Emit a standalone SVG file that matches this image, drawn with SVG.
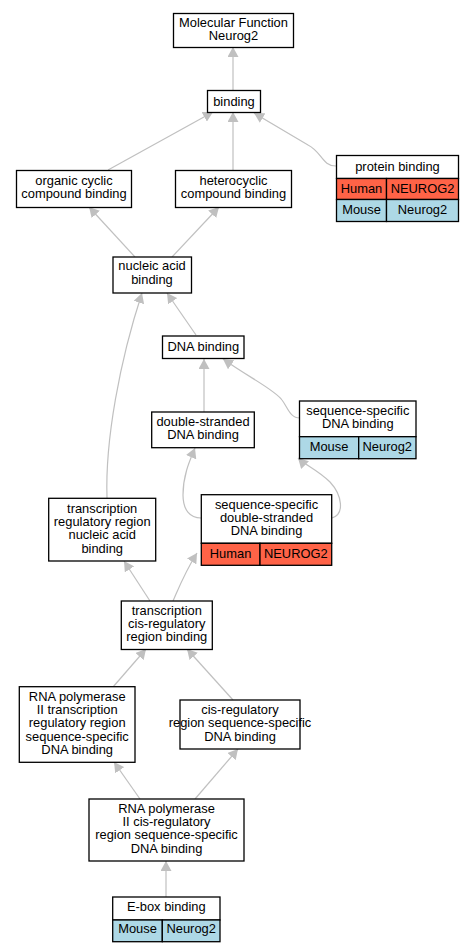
<svg xmlns="http://www.w3.org/2000/svg" width="475" height="952" viewBox="0 0 475 952">
<style>
.b{fill:#ffffff;stroke:#000000;stroke-width:1.3}
.h{fill:#ff6347;stroke:#000000;stroke-width:1.3}
.m{fill:#add8e6;stroke:#000000;stroke-width:1.3}
.ln{stroke:#000000;stroke-width:1.3;fill:none}
text{font-family:"Liberation Sans",Arial,sans-serif;font-size:12.9px;fill:#000000;text-anchor:middle}
.e{fill:none;stroke:#c0c0c0;stroke-width:1.2;marker-end:url(#arr)}
</style>
<defs>
<marker id="arr" viewBox="0 0 10 10" refX="10" refY="5" markerWidth="10" markerHeight="11" markerUnits="userSpaceOnUse" orient="auto" preserveAspectRatio="none">
<path d="M0,0 L10,5 L0,10 z" fill="#c0c0c0"/>
</marker>
</defs>
<rect width="475" height="952" fill="#ffffff"/>
<g id="edges">
<path class="e" d="M233,90 L233,47"/>
<path class="e" d="M108,170 L213,112"/>
<path class="e" d="M233,170 L233,112"/>
<path class="e" d="M336,166 C322,166 322,152 308,145 L254,113"/>
<path class="e" d="M135,257 L89,207"/>
<path class="e" d="M172,257 L219,207"/>
<path class="e" d="M196,335 L167,293"/>
<path class="e" d="M300,418 C290,418 288,408 282,400 C275,390 250,378 223,359"/>
<path class="e" d="M204,412 L204,359"/>
<path class="e" d="M201,518 C190,518 183,510 183,495 C183,475 190,460 195,448"/>
<path class="e" d="M332,518 C345,514 342,495 330,482 C318,470 305,465 298,458"/>
<path class="e" d="M107,498 C105,440 120,360 142,293"/>
<path class="e" d="M150,601 L124,561"/>
<path class="e" d="M173,601 C180,585 185,572 197,553"/>
<path class="e" d="M113,687 L146,649"/>
<path class="e" d="M233,700 L187,649"/>
<path class="e" d="M140,799 L114,762"/>
<path class="e" d="M195,799 L238,749"/>
<path class="e" d="M166,897 L166,861"/>
</g>
<g id="n1">
<rect class="b" x="173.5" y="13.5" width="120" height="34"/>
<text x="233.5" y="26.5">Molecular Function</text>
<text x="233.5" y="39.8">Neurog2</text>
</g>
<g id="n2">
<rect class="b" x="207.5" y="90.5" width="53" height="22"/>
<text x="234" y="105.5">binding</text>
</g>
<g id="n3">
<rect class="b" x="16.5" y="170.5" width="115" height="37"/>
<text x="74" y="184.5">organic cyclic</text>
<text x="74" y="197.8">compound binding</text>
</g>
<g id="n4">
<rect class="b" x="175.5" y="170.5" width="116" height="37"/>
<text x="233.5" y="184.5">heterocyclic</text>
<text x="233.5" y="197.8">compound binding</text>
</g>
<g id="n5">
<rect class="b" x="336.5" y="155.5" width="122" height="23"/>
<rect class="h" x="336.5" y="178.5" width="50" height="21"/>
<rect class="h" x="386.5" y="178.5" width="72" height="21"/>
<rect class="m" x="336.5" y="199.5" width="50" height="22"/>
<rect class="m" x="386.5" y="199.5" width="72" height="22"/>
<text x="397.5" y="170.5">protein binding</text>
<text x="361.5" y="192.5">Human</text>
<text x="422.5" y="192.5">NEUROG2</text>
<text x="361.5" y="213.8">Mouse</text>
<text x="422.5" y="213.8">Neurog2</text>
</g>
<g id="n6">
<rect class="b" x="113" y="257" width="78.5" height="36"/>
<text x="152" y="270.3">nucleic acid</text>
<text x="152" y="283.6">binding</text>
</g>
<g id="n7">
<rect class="b" x="162.5" y="336" width="81.5" height="22.5"/>
<text x="203.3" y="350.5">DNA binding</text>
</g>
<g id="n8">
<rect class="b" x="299.5" y="401" width="116.5" height="35.7"/>
<rect class="m" x="299.5" y="436.7" width="59.2" height="22"/>
<rect class="m" x="358.7" y="436.7" width="57.3" height="22"/>
<text x="357.8" y="415">sequence-specific</text>
<text x="357.8" y="428.3">DNA binding</text>
<text x="329" y="451.3">Mouse</text>
<text x="387.3" y="451.3">Neurog2</text>
</g>
<g id="n9">
<rect class="b" x="151.7" y="412" width="102.6" height="35.7"/>
<text x="203" y="425.7">double-stranded</text>
<text x="203" y="439">DNA binding</text>
</g>
<g id="n10">
<rect class="b" x="201.3" y="494.7" width="130.4" height="48.6"/>
<rect class="h" x="201.3" y="543.3" width="58.7" height="22"/>
<rect class="h" x="260" y="543.3" width="71.7" height="22"/>
<text x="266.5" y="508.5">sequence-specific</text>
<text x="266.5" y="521.8">double-stranded</text>
<text x="266.5" y="535.1">DNA binding</text>
<text x="230.6" y="557.5">Human</text>
<text x="295.8" y="557.5">NEUROG2</text>
</g>
<g id="n11">
<rect class="b" x="48.7" y="498.3" width="107" height="62.7"/>
<text x="102.2" y="512.8">transcription</text>
<text x="102.2" y="526.1">regulatory region</text>
<text x="102.2" y="539.4">nucleic acid</text>
<text x="102.2" y="552.7">binding</text>
</g>
<g id="n12">
<rect class="b" x="121.3" y="601" width="91" height="48.5"/>
<text x="166.8" y="614.5">transcription</text>
<text x="166.8" y="627.8">cis-regulatory</text>
<text x="166.8" y="641.1">region binding</text>
</g>
<g id="n13">
<rect class="b" x="19.3" y="686.7" width="115.7" height="75.6"/>
<text x="77.2" y="700.8">RNA polymerase</text>
<text x="77.2" y="714.1">II transcription</text>
<text x="77.2" y="727.4">regulatory region</text>
<text x="77.2" y="740.7">sequence-specific</text>
<text x="77.2" y="754">DNA binding</text>
</g>
<g id="n14">
<rect class="b" x="180" y="700" width="120" height="49"/>
<text x="240" y="714">cis-regulatory</text>
<text x="240" y="727.3">region sequence-specific</text>
<text x="240" y="740.6">DNA binding</text>
</g>
<g id="n15">
<rect class="b" x="89" y="799" width="155" height="62"/>
<text x="166.5" y="812.8">RNA polymerase</text>
<text x="166.5" y="826.1">II cis-regulatory</text>
<text x="166.5" y="839.4">region sequence-specific</text>
<text x="166.5" y="852.7">DNA binding</text>
</g>
<g id="n16">
<rect class="b" x="112.7" y="897" width="107.3" height="23"/>
<rect class="m" x="112.7" y="920" width="49.6" height="21.7"/>
<rect class="m" x="162.3" y="920" width="57.7" height="21.7"/>
<text x="166.3" y="911">E-box binding</text>
<text x="137.5" y="932.6">Mouse</text>
<text x="191.2" y="932.6">Neurog2</text>
</g>
</svg>
